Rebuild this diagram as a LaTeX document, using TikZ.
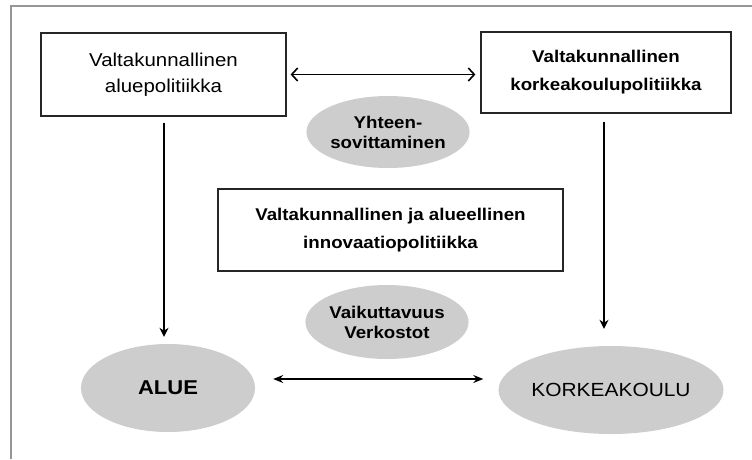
\documentclass[tikz,border=0pt]{standalone}
\usepackage{fontspec}
\setmainfont[FakeStretch=1.1]{Liberation Sans}
\usetikzlibrary{arrows.meta,shapes.geometric,calc}
\definecolor{ellgray}{RGB}{205,205,205}
\definecolor{framegray}{RGB}{150,150,150}
\begin{document}
\begin{tikzpicture}[x=1pt,y=-1pt,
  box/.style={draw=black!85,line width=1.2pt,rectangle,inner sep=0pt,align=center},
  blob/.style={ellipse,fill=ellgray,draw=none,inner sep=0pt,align=center},
  barr/.style={line width=1.3pt,-{Stealth[length=9pt,width=9pt]}},
  darr/.style={line width=1.2pt,{Straight Barb[length=6pt,width=13pt,line width=1.6pt]}-{Straight Barb[length=6pt,width=13pt,line width=1.6pt]}},
  harr/.style={line width=1.2pt,{Stealth[length=10pt,width=8pt]}-{Stealth[length=10pt,width=8pt]}}]
\useasboundingbox (0,0) rectangle (752,459);
\fill[white] (0,0) rectangle (752,459);
\draw[framegray,line width=1.5pt] (11,459) -- (11,6) -- (752,6);

\node[box,minimum width=245pt,minimum height=83pt,
  font=\fontsize{18.6}{26}\selectfont] (b1) at (163.5,74.5) {Valtakunnallinen\\aluepolitiikka};
\node[box,minimum width=250pt,minimum height=81pt,
  font=\fontsize{17}{28}\selectfont\bfseries] (b2) at (606,72.5) {Valtakunnallinen\\korkeakoulupolitiikka};
\node[box,minimum width=345pt,minimum height=82pt,
  font=\fontsize{17}{28}\selectfont\bfseries] (b3) at (390.5,230) {Valtakunnallinen ja alueellinen\\innovaatiopolitiikka};

\node[blob,minimum width=136pt,minimum height=72pt,
  font=\fontsize{17}{20}\selectfont\bfseries] (yh) at (388,132) {Yhteen-\\sovittaminen};
\node[blob,minimum width=134pt,minimum height=74pt,
  font=\fontsize{17}{20}\selectfont\bfseries] (vk) at (387,322) {Vaikuttavuus\\Verkostot};
\node[blob,minimum width=174pt,minimum height=88pt,
  font=\fontsize{20}{24}\selectfont\bfseries] (alue) at (168,388) {ALUE};
\node[blob,minimum width=174pt,minimum height=88pt,
  font=\fontsize{19}{24}\selectfont] (kork) at (611,390) {KORKEAKOULU};

\coordinate (l1) at ($(b1.south)+(0.5,0)$);
\coordinate (r1) at ($(b2.south)+(-2,0)$);
\coordinate (h1) at ($(alue.east)+(18,-9)$);
\coordinate (h2) at ($(kork.west)+(-15,-11)$);

\draw[darr,shorten <=4pt,shorten >=5pt] (b1.east) -- (b1.east -| b2.west);
\draw[barr,shorten <=6pt,shorten >=7pt] (l1) -- (l1 |- alue.north);
\draw[barr,shorten <=8pt,shorten >=17pt] (r1) -- (r1 |- kork.north);
\draw[harr] (h1) -- (h2);
\end{tikzpicture}
\end{document}
